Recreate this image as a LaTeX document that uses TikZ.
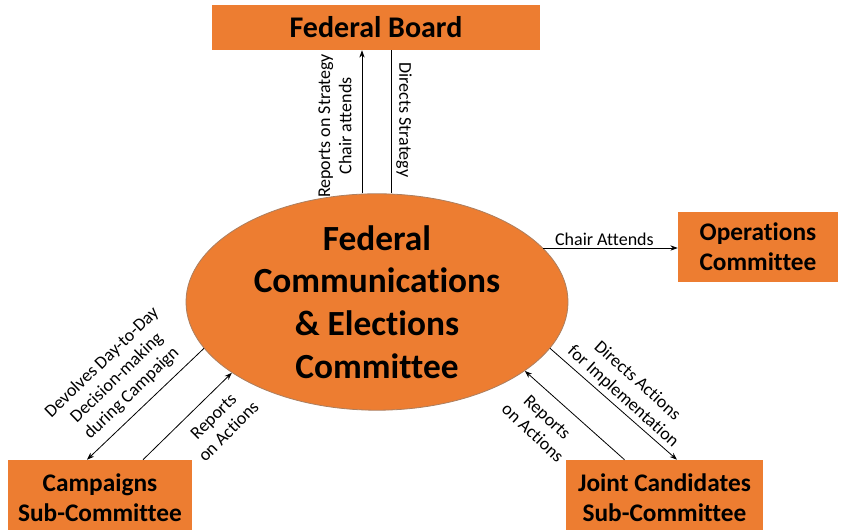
\documentclass[tikz,border=0pt]{standalone}
\usepackage{fontspec}
\setmainfont{Carlito}[Ligatures=NoCommon]
\usetikzlibrary{calc, shapes.geometric, arrows.meta}

\definecolor{boxorange}{HTML}{ED7D31}
\newdimen\pxu \pxu=0.75pt

\tikzset{
  box/.style={fill=boxorange, align=center, inner sep=0pt,
    font=\fontsize{19}{22.5}\selectfont\bfseries},
  lbl/.style={align=center, inner sep=1pt,
    font=\fontsize{13.5}{16}\selectfont},
  arr/.style={-{Stealth[length=5.5pt,width=4pt]}, line width=0.6pt},
}

\begin{document}
\begin{tikzpicture}[x=0.75pt,y=0.75pt]
\useasboundingbox (0,0) rectangle (856,530);
% The committee in the middle
\node[ellipse, fill=boxorange, draw=gray!60!boxorange, line width=0.6pt,
  minimum width=382\pxu, minimum height=208\pxu, inner sep=0pt, align=center,
  font=\fontsize{26.5}{32}\selectfont\bfseries]
  (fce) at (377,228) {Federal\\Communications\\\& Elections\\Committee};
% Boxes around it
\node[box, minimum width=328\pxu, minimum height=45\pxu,
  font=\fontsize{22.5}{26}\selectfont\bfseries] (fb) at (376,502.5) {Federal Board};
\node[box, minimum width=160\pxu, minimum height=70\pxu] (ops) at (758,283) {Operations\\Committee};
\node[box, minimum width=184\pxu, minimum height=75\pxu] (camp) at (100,32.5) {Campaigns\\Sub-Committee};
\node[box, minimum width=197\pxu, minimum height=75\pxu] (jcs) at (664.5,32.5) {Joint Candidates\\Sub-Committee};
% Links to the Federal Board
\draw[arr] ($(fce.north)+(-15,0)$) -- ($(fb.south)+(-14,0)$);
\draw[line width=0.6pt] ($(fb.south)+(15,0)$) -- ($(fce.north)+(14,0)$);
\node[lbl, rotate=90] (rs) at (335,404) {Reports on Strategy\\Chair attends};
\node[lbl, rotate=-90] (ds) at (404,410) {Directs Strategy};
% Link to Operations
\draw[arr] (fce.18) -- (fce.18 -| ops.west) coordinate (opsin);
\node[lbl, anchor=south] (ca) at ($(fce.18)!.5!(opsin)+(-6,1)$) {Chair Attends};
% Links to the Campaigns Sub-Committee
\draw[arr] (fce.195) -- ($(camp.north)+(-13,0)$);
\draw[arr] ($(camp.north)+(43,0)$) -- (fce.206);
\node[lbl, rotate=44] (dev) at (117,152) {Devolves Day-to-Day\\Decision-making\\during Campaign};
\node[lbl, rotate=45] (rca) at (221,106) {Reports\\on Actions};
% Links to the Joint Candidates Sub-Committee
\draw[arr] ($(jcs.north)+(-40,0)$) -- (fce.335.6);
\draw[arr] (fce.345.7) -- ($(jcs.north)+(12.5,0)$);
\node[lbl, rotate=-43] (rja) at (540,105) {Reports\\on Actions};
\node[lbl, rotate=-42] (dai) at (630,141) {Directs Actions\\for Implementation};
\end{tikzpicture}
\end{document}
